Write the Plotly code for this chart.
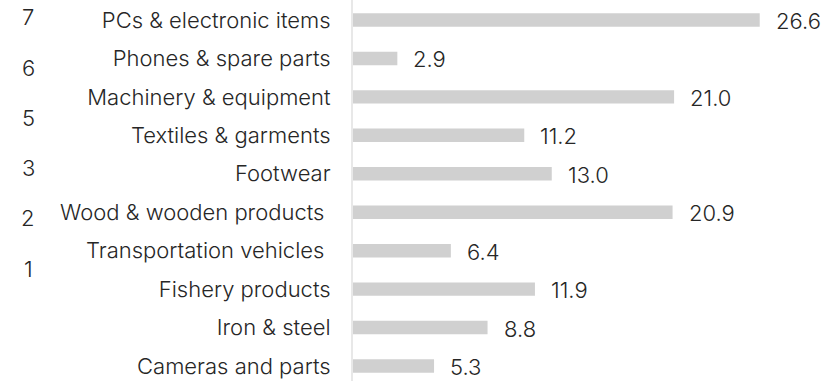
import plotly.graph_objects as go

# Product groups, listed top to bottom, with their values
categories = [
    "PCs & electronic items",
    "Phones & spare parts",
    "Machinery & equipment",
    "Textiles & garments",
    "Footwear",
    "Wood & wooden products\u00a0",
    "Transportation vehicles\u00a0",
    "Fishery products",
    "Iron & steel",
    "Cameras and parts",
]
values = [26.6, 2.9, 21.0, 11.2, 13.0, 20.9, 6.4, 11.9, 8.8, 5.3]

# Rank markers shown down the left edge
side_marks = [7, 6, 5, 3, 2, 1]

FONT = "Inter"
TEXT = "#262626"
SIZE = 22
WEIGHT = 300

fig = go.Figure(
    go.Bar(
        x=values,
        y=categories,
        orientation="h",
        width=0.35,
        marker=dict(color="#d0d0d0", line=dict(width=0)),
        hoverinfo="skip",
    )
)

# Value labels sit a little past the end of each bar
for cat, v in zip(categories, values):
    fig.add_annotation(
        x=v,
        y=cat,
        text=f"{v:.1f}",
        xanchor="left",
        yanchor="middle",
        xshift=14,
        yshift=-1,
        showarrow=False,
        font=dict(family=FONT, size=SIZE, color=TEXT, weight=WEIGHT),
    )

W, H = 838, 381
fig.update_layout(
    width=W,
    height=H,
    margin=dict(l=353, r=11, t=0, b=0),
    paper_bgcolor="white",
    plot_bgcolor="white",
    showlegend=False,
    font=dict(family=FONT, size=SIZE, color=TEXT, weight=WEIGHT),
)
fig.update_xaxes(
    range=[0, 31],
    showgrid=False,
    zeroline=False,
    showticklabels=False,
    showline=False,
)
fig.update_yaxes(
    type="category",
    range=[9.39, -0.52],
    showgrid=False,
    zeroline=False,
    showline=True,
    linecolor="#e8e8e8",
    linewidth=2,
    ticks="",
    ticklabelstandoff=16,
    tickfont=dict(family=FONT, size=SIZE, color=TEXT, weight=WEIGHT),
)

# Side markers: evenly stepped down the left margin
top_px, step_px = 17.5, 50.2
for i, m in enumerate(side_marks):
    y_px = top_px + i * step_px
    fig.add_annotation(
        text=str(m),
        xref="paper",
        yref="paper",
        x=(28 - 353) / (W - 353 - 11),
        y=1 - y_px / H,
        xanchor="center",
        yanchor="middle",
        showarrow=False,
        font=dict(family=FONT, size=SIZE, color=TEXT, weight=WEIGHT),
    )

fig.write_html("out.html")
